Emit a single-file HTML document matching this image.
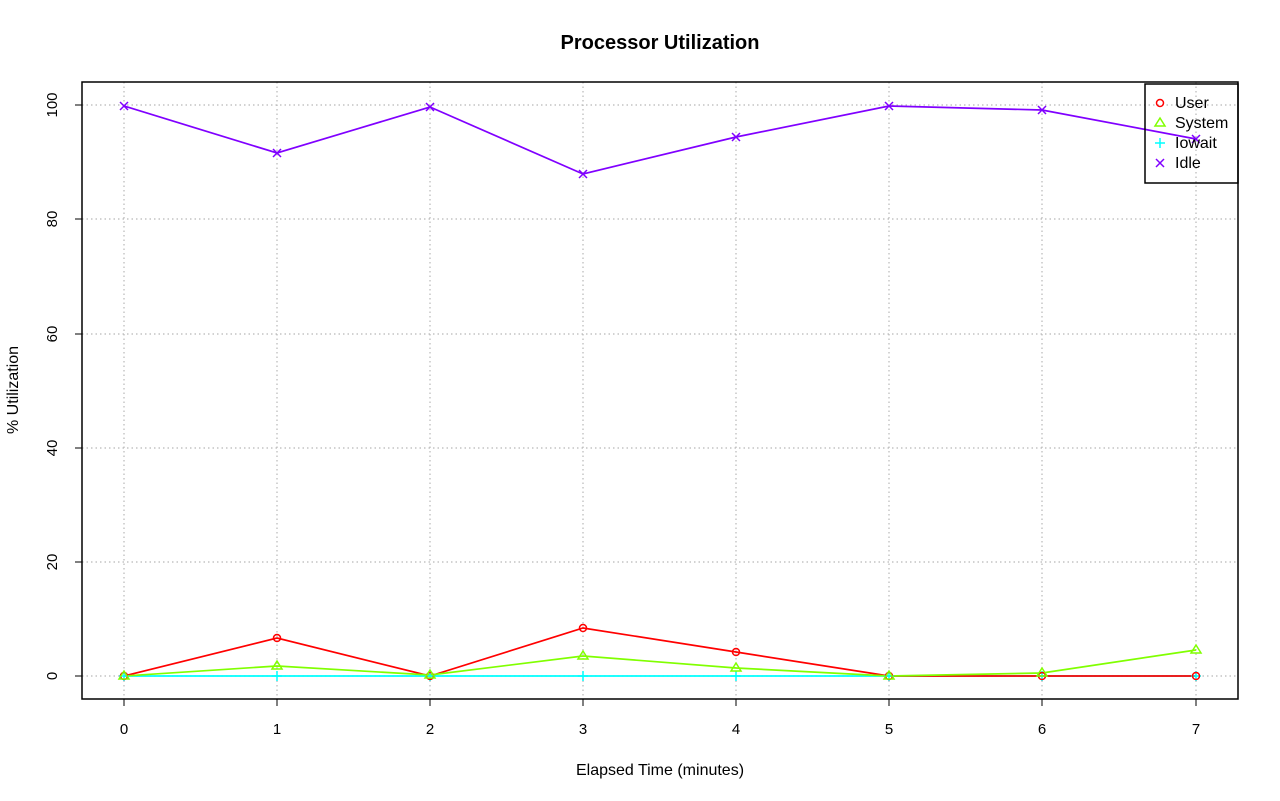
<!DOCTYPE html>
<html><head><style>body{margin:0;background:#fff}svg{display:block}text{font-family:"Liberation Sans",sans-serif}</style></head><body>
<svg width="1280" height="801" viewBox="0 0 1280 801" xmlns="http://www.w3.org/2000/svg">
<rect width="1280" height="801" fill="#fff"/>
<text x="660" y="49" font-size="20" font-weight="bold" text-anchor="middle">Processor Utilization</text>
<g stroke="#b8b8b8" stroke-dasharray="1.5,3" stroke-width="1.2">
<line x1="124" y1="82" x2="124" y2="699"/><line x1="277" y1="82" x2="277" y2="699"/><line x1="430" y1="82" x2="430" y2="699"/><line x1="583" y1="82" x2="583" y2="699"/><line x1="736" y1="82" x2="736" y2="699"/><line x1="889" y1="82" x2="889" y2="699"/><line x1="1042" y1="82" x2="1042" y2="699"/><line x1="1196" y1="82" x2="1196" y2="699"/>
<line x1="82" y1="676" x2="1238" y2="676"/><line x1="82" y1="562" x2="1238" y2="562"/><line x1="82" y1="448" x2="1238" y2="448"/><line x1="82" y1="334" x2="1238" y2="334"/><line x1="82" y1="219" x2="1238" y2="219"/><line x1="82" y1="105" x2="1238" y2="105"/>
</g>
<rect x="82" y="82" width="1156" height="617" fill="none" stroke="#000" stroke-width="1.5"/>
<g stroke="#000" stroke-width="1">
<line x1="124" y1="699" x2="1196" y2="699"/>
<line x1="124" y1="699" x2="124" y2="706"/><line x1="277" y1="699" x2="277" y2="706"/><line x1="430" y1="699" x2="430" y2="706"/><line x1="583" y1="699" x2="583" y2="706"/><line x1="736" y1="699" x2="736" y2="706"/><line x1="889" y1="699" x2="889" y2="706"/><line x1="1042" y1="699" x2="1042" y2="706"/><line x1="1196" y1="699" x2="1196" y2="706"/>
<line x1="82" y1="105" x2="82" y2="676"/>
<line x1="75" y1="676" x2="82" y2="676"/><line x1="75" y1="562" x2="82" y2="562"/><line x1="75" y1="448" x2="82" y2="448"/><line x1="75" y1="334" x2="82" y2="334"/><line x1="75" y1="219" x2="82" y2="219"/><line x1="75" y1="105" x2="82" y2="105"/>
</g>
<g font-size="15" text-anchor="middle">
<text x="124" y="734">0</text><text x="277" y="734">1</text><text x="430" y="734">2</text><text x="583" y="734">3</text><text x="736" y="734">4</text><text x="889" y="734">5</text><text x="1042" y="734">6</text><text x="1196" y="734">7</text>
<text transform="translate(57,676) rotate(-90)">0</text><text transform="translate(57,562) rotate(-90)">20</text><text transform="translate(57,448) rotate(-90)">40</text><text transform="translate(57,334) rotate(-90)">60</text><text transform="translate(57,219) rotate(-90)">80</text><text transform="translate(57,105) rotate(-90)">100</text>
</g>
<g font-size="16" text-anchor="middle">
<text x="660" y="775">Elapsed Time (minutes)</text>
<text transform="translate(18,390) rotate(-90)">% Utilization</text>
</g>
<g fill="none" stroke-width="1.7">
<polyline stroke="#00ffff" points="124,676 277,676 430,676 583,676 736,676 889,676 1042,676 1196,676"/>
<polyline stroke="#ff0000" points="124,676 277,638 430,676 583,628 736,652 889,676 1042,676 1196,676"/>
<polyline stroke="#80ff00" points="124,676 277,666 430,675 583,656 736,668 889,676 1042,673 1196,650"/>
<polyline stroke="#8000ff" points="124,106 277,153 430,107 583,174 736,137 889,106 1042,110 1196,139"/>
</g>
<g fill="none" stroke="#00ffff" stroke-width="1.5">
<path d="M119,676h10M124,671v10M272,676h10M277,671v10M425,676h10M430,671v10M578,676h10M583,671v10M731,676h10M736,671v10M884,676h10M889,671v10M1037,676h10M1042,671v10M1191,676h10M1196,671v10"/>
</g>
<g fill="none" stroke="#ff0000" stroke-width="1.5">
<circle cx="124" cy="676" r="3.5"/><circle cx="277" cy="638" r="3.5"/><circle cx="430" cy="676" r="3.5"/><circle cx="583" cy="628" r="3.5"/><circle cx="736" cy="652" r="3.5"/><circle cx="889" cy="676" r="3.5"/><circle cx="1042" cy="676" r="3.5"/><circle cx="1196" cy="676" r="3.5"/>
</g>
<g fill="none" stroke="#80ff00" stroke-width="1.5">
<path d="M124,671l5,8h-10z M277,661l5,8h-10z M430,670l5,8h-10z M583,651l5,8h-10z M736,663l5,8h-10z M889,671l5,8h-10z M1042,668l5,8h-10z M1196,645l5,8h-10z"/>
</g>
<g fill="none" stroke="#8000ff" stroke-width="1.5">
<path d="M120,102l8,8M128,102l-8,8 M273,149l8,8M281,149l-8,8 M426,103l8,8M434,103l-8,8 M579,170l8,8M587,170l-8,8 M732,133l8,8M740,133l-8,8 M885,102l8,8M893,102l-8,8 M1038,106l8,8M1046,106l-8,8 M1192,135l8,8M1200,135l-8,8"/>
</g>
<rect x="1145" y="84" width="93" height="99" fill="none" stroke="#000" stroke-width="1.5"/>
<circle cx="1160" cy="103" r="3.5" fill="none" stroke="#ff0000" stroke-width="1.5"/>
<path d="M1160,118l5,8h-10z" fill="none" stroke="#80ff00" stroke-width="1.5"/>
<path d="M1155,143h10M1160,138v10" stroke="#00ffff" stroke-width="1.5"/>
<path d="M1156,159l8,8M1164,159l-8,8" stroke="#8000ff" stroke-width="1.5"/>
<g font-size="16"><text x="1175" y="108">User</text><text x="1175" y="128">System</text><text x="1175" y="148">Iowait</text><text x="1175" y="168">Idle</text></g>
</svg>
</body></html>
